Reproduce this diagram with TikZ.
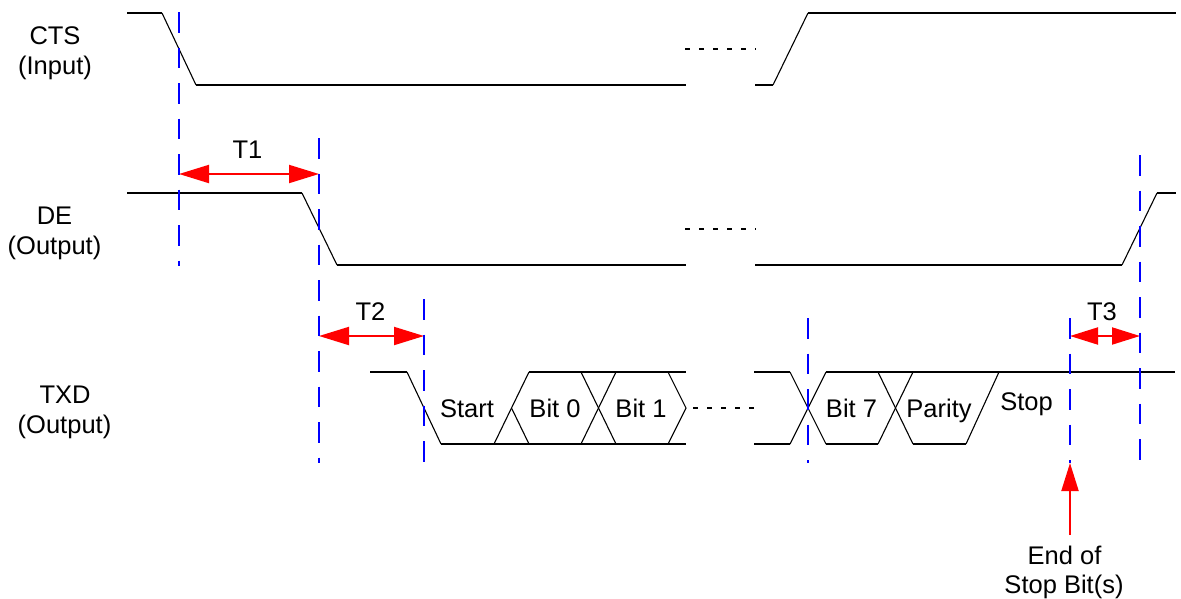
\documentclass[tikz,border=0pt]{standalone}
\usepackage{fontspec}
\setmainfont{Liberation Sans}
\usetikzlibrary{arrows.meta}
\begin{document}
\begin{tikzpicture}[x=1pt,y=-1pt,
  lbl/.style={font=\fontsize{25.5}{30}\selectfont, inner sep=0pt, anchor=base},
  hl/.style={black, line width=2pt},
  sl/.style={black, line width=1.1pt},
  dotl/.style={black, line width=2pt, dash pattern=on 4.5pt off 9.5pt},
  vguide/.style={blue, line width=2.2pt, dash pattern=on 20.5pt off 15pt},
  dimarrow/.style={red, line width=2pt, {Triangle[length=30pt,width=18pt]}-{Triangle[length=30pt,width=18pt]}},
  dimarrowS/.style={red, line width=2pt, {Triangle[length=28pt,width=17pt]}-{Triangle[length=28pt,width=17pt]}},
  markarrow/.style={red, line width=2pt, -{Triangle[length=28pt,width=17pt]}}
]
\useasboundingbox (0,0) rectangle (1181,598);

% ---------- signal labels ----------
\node[lbl] (ctsA) at (55,44) {CTS};
\node[lbl] (ctsB) at (55,74) {(Input)};
\node[lbl] (deA) at (54.5,224) {DE};
\node[lbl] (deB) at (54.5,254) {(Output)};
\node[lbl] (txdA) at (65,403) {TXD};
\node[lbl] (txdB) at (64.5,433.5) {(Output)};

% ---------- CTS waveform ----------
\draw[hl] (127,13) -- (162,13);
\draw[sl] (162,13) -- (196,85);
\draw[hl] (196,85) -- (686,85);
\draw[dotl] (685,49) -- (756,49);
\draw[hl] (755,85) -- (773,85);
\draw[sl] (773,85) -- (808,13);
\draw[hl] (808,13) -- (1176,13);

% ---------- DE waveform ----------
\draw[hl] (127,193) -- (302,193);
\draw[sl] (302,193) -- (337,265);
\draw[hl] (337,265) -- (686,265);
\draw[dotl] (685,229) -- (756,229);
\draw[hl] (755,265) -- (1122,265);
\draw[sl] (1122,265) -- (1157,193);
\draw[hl] (1157,193) -- (1176,193);

% ---------- TXD waveform ----------
\draw[hl] (370,372) -- (407,372);
\draw[sl] (407,372) -- (441,444);
\draw[hl] (441,444) -- (686,444);
\draw[sl] (494,444) -- (529,372);
\draw[sl] (511.5,408) -- (529,444);
\draw[hl] (529,372) -- (686,372);
\draw[sl] (581,372) -- (616,444);
\draw[sl] (581,444) -- (616,372);
\draw[sl] (668,372) -- (686,408) -- (668,444);
\draw[dotl] (693,408) -- (756,408);
\draw[hl] (754,372) -- (790,372);
\draw[hl] (754,444) -- (790,444);
\draw[sl] (790,372) -- (826,444);
\draw[sl] (790,444) -- (826,372);
\draw[hl] (826,372) -- (1175,372);
\draw[hl] (826,444) -- (878,444);
\draw[sl] (878,372) -- (913,444);
\draw[sl] (878,444) -- (913,372);
\draw[hl] (913,444) -- (966,444);
\draw[sl] (966,444) -- (999,372);

% ---------- bit labels ----------
\node[lbl] (start) at (467,417.5) {Start};
\node[lbl] (bit0) at (555,417.5) {Bit 0};
\node[lbl] (bit1) at (641,417.5) {Bit 1};
\node[lbl] (bit7) at (851.5,417.5) {Bit 7};
\node[lbl] (parity) at (939,417.5) {Parity};
\node[lbl] (stop) at (1026.5,410.5) {Stop};

% ---------- guide coordinates ----------
\coordinate (g1t) at (179,12);   \coordinate (g1b) at (179,266);
\coordinate (g2t) at (319,138);  \coordinate (g2b) at (319,463);
\coordinate (g3t) at (424,299);  \coordinate (g3b) at (424,463);
\coordinate (g4t) at (808,318);  \coordinate (g4b) at (808,463);
\coordinate (g5t) at (1070,318); \coordinate (g5b) at (1070,463);
\coordinate (g6t) at (1140,155); \coordinate (g6b) at (1140,463);

% ---------- timing arrows ----------
\coordinate (t1a) at (179,174);  \coordinate (t1b) at (319,174);
\coordinate (t2a) at (319,336);  \coordinate (t2b) at (424,336);
\coordinate (t3a) at (1070,336); \coordinate (t3b) at (1140,336);
\coordinate (ea) at (1070,535);  \coordinate (eb) at (1070,463);

\draw[dimarrow] (t1a) -- (t1b);
\draw[dimarrow] (t2a) -- (t2b);
\draw[dimarrowS] (t3a) -- (t3b);
\draw[markarrow] (ea) -- (eb);

\draw[vguide] (g1t) -- (g1b);
\draw[vguide] (g2t) -- (g2b);
\draw[vguide] (g3t) -- (g3b);
\draw[vguide] (g4t) -- (g4b);
\draw[vguide] (g5t) -- (g5b);
\draw[vguide] (g6t) -- (g6b);

\node[lbl] (t1) at (247.5,158) {T1};
\node[lbl] (t2) at (370.5,320) {T2};
\node[lbl] (t3) at (1102,320) {T3};

\node[lbl] (endA) at (1064.5,564) {End of};
\node[lbl] (endB) at (1064,593) {Stop Bit(s)};
\end{tikzpicture}
\end{document}
